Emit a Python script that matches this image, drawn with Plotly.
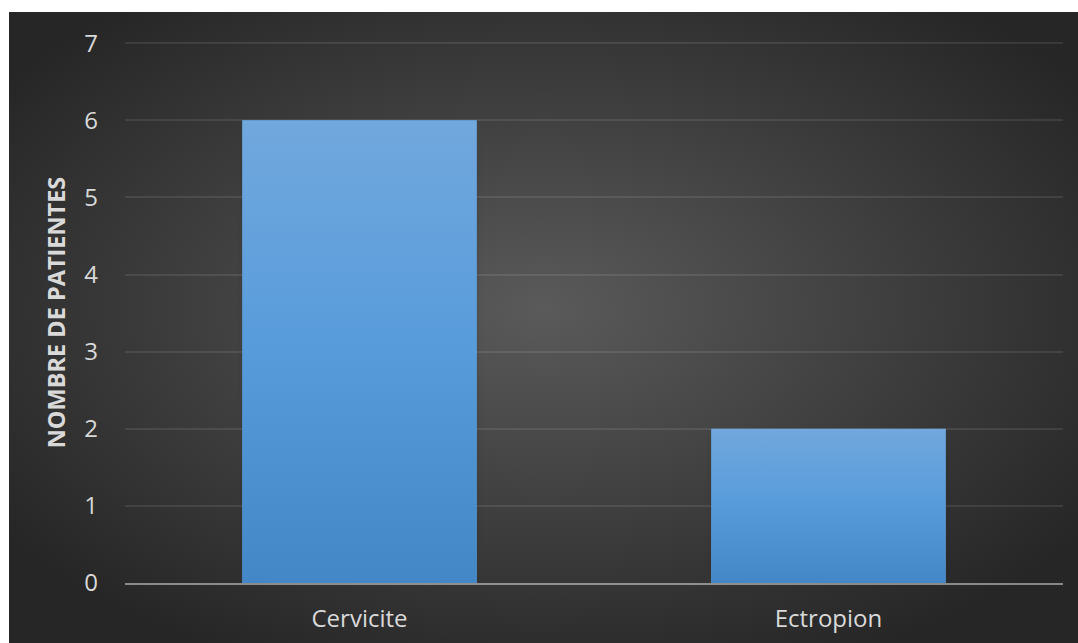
import base64
import plotly.graph_objects as go

# Number of patients per cervical lesion
categories = ["Cervicite", "Ectropion"]
patients = [6, 2]
y_ticks = [0, 1, 2, 3, 4, 5, 6, 7]

BAR_WIDTH = 0.5
FONT = "Open Sans"
TEXT_COLOR = "#d9d9d9"

W, H = 1078, 643
M_L, M_R, M_T, M_B = 125, 15, 42, 60
plot_w = W - M_L - M_R
plot_h = H - M_T - M_B


def svg_uri(svg):
    return "data:image/svg+xml;base64," + base64.b64encode(svg.encode()).decode()


# Dark chart frame with a soft radial light in the middle
bg_svg = (
    '<svg xmlns="http://www.w3.org/2000/svg" width="100" height="100" '
    'viewBox="0 0 100 100" preserveAspectRatio="none">'
    '<defs><radialGradient id="g" cx="50%" cy="47%" r="62%">'
    '<stop offset="0%" stop-color="#5a5a5a"/>'
    '<stop offset="100%" stop-color="#262626"/>'
    '</radialGradient></defs>'
    '<rect width="100" height="100" fill="url(#g)"/></svg>'
)

# Vertical blue gradient used to paint each bar
bar_svg = (
    '<svg xmlns="http://www.w3.org/2000/svg" width="10" height="100" '
    'viewBox="0 0 10 100" preserveAspectRatio="none">'
    '<defs><linearGradient id="b" x1="0" y1="0" x2="0" y2="1">'
    '<stop offset="0%" stop-color="#71a8dd"/>'
    '<stop offset="50%" stop-color="#579bdb"/>'
    '<stop offset="100%" stop-color="#4487c7"/>'
    '</linearGradient></defs>'
    '<rect width="10" height="100" fill="url(#b)"/></svg>'
)

# Soft shadow behind each bar
shadow_svg = (
    '<svg xmlns="http://www.w3.org/2000/svg" width="120" height="120" '
    'viewBox="0 0 120 120" preserveAspectRatio="none">'
    '<defs><filter id="f" x="-50%" y="-50%" width="200%" height="200%">'
    '<feGaussianBlur stdDeviation="3"/></filter></defs>'
    '<rect x="10" y="10" width="100" height="100" fill="#000" '
    'fill-opacity="0.55" filter="url(#f)"/></svg>'
)

x_pos = list(range(len(categories)))
y_top = max(y_ticks)

fig = go.Figure(
    go.Bar(
        x=x_pos,
        y=patients,
        width=BAR_WIDTH,
        marker=dict(color="#5b9bd5", line=dict(width=0)),
        hoverinfo="skip",
    )
)

# frame rectangle spanning the whole chart region (in paper units)
fx0, fx1 = 9, 1078
fy0, fy1 = 12, 643
images = [
    dict(
        source=svg_uri(bg_svg),
        xref="paper", yref="paper",
        x=(fx0 - M_L) / plot_w,
        y=(H - M_B - fy0) / plot_h,
        sizex=(fx1 - fx0) / plot_w,
        sizey=(fy1 - fy0) / plot_h,
        sizing="stretch",
        xanchor="left", yanchor="top",
        layer="below",
    )
]

for xi, v in zip(x_pos, patients):
    pad_x = BAR_WIDTH * 0.1
    pad_y = v * 0.1
    images.append(
        dict(
            source=svg_uri(shadow_svg),
            xref="x", yref="y",
            x=xi - BAR_WIDTH / 2 - pad_x * 0.6,
            y=v + pad_y * 0.4,
            sizex=BAR_WIDTH + pad_x * 1.2,
            sizey=v + pad_y * 0.8,
            sizing="stretch",
            xanchor="left", yanchor="top",
            layer="below",
        )
    )
    images.append(
        dict(
            source=svg_uri(bar_svg),
            xref="x", yref="y",
            x=xi - BAR_WIDTH / 2,
            y=v,
            sizex=BAR_WIDTH,
            sizey=v,
            sizing="stretch",
            xanchor="left", yanchor="top",
            layer="above",
        )
    )

fig.update_layout(
    width=W,
    height=H,
    margin=dict(l=M_L, r=M_R, t=M_T, b=M_B, pad=0, autoexpand=False),
    paper_bgcolor="white",
    plot_bgcolor="rgba(0,0,0,0)",
    font=dict(family=FONT, color=TEXT_COLOR, size=24),
    showlegend=False,
    images=images,
    xaxis=dict(
        range=[-0.5, len(categories) - 0.5],
        tickmode="array",
        tickvals=x_pos,
        ticktext=categories,
        showgrid=False,
        zeroline=False,
        showline=True,
        linecolor="rgba(255,255,255,0.45)",
        linewidth=2,
        ticks="",
        ticklabelstandoff=13,
        tickfont=dict(size=24, color=TEXT_COLOR),
        automargin=False,
        fixedrange=True,
    ),
    yaxis=dict(
        range=[0, y_top + 0.015],
        tickmode="array",
        tickvals=y_ticks,
        showgrid=True,
        gridcolor="rgba(255,255,255,0.09)",
        gridwidth=1.5,
        zeroline=False,
        showline=False,
        ticks="",
        ticklabelstandoff=26,
        tickfont=dict(size=24, color=TEXT_COLOR),
        title=dict(
            text="<b>NOMBRE DE PATIENTES</b>",
            font=dict(size=23.5, color=TEXT_COLOR, family=FONT),
            standoff=12,
        ),
        automargin=False,
        fixedrange=True,
    ),
)

fig.write_html("out.html")
